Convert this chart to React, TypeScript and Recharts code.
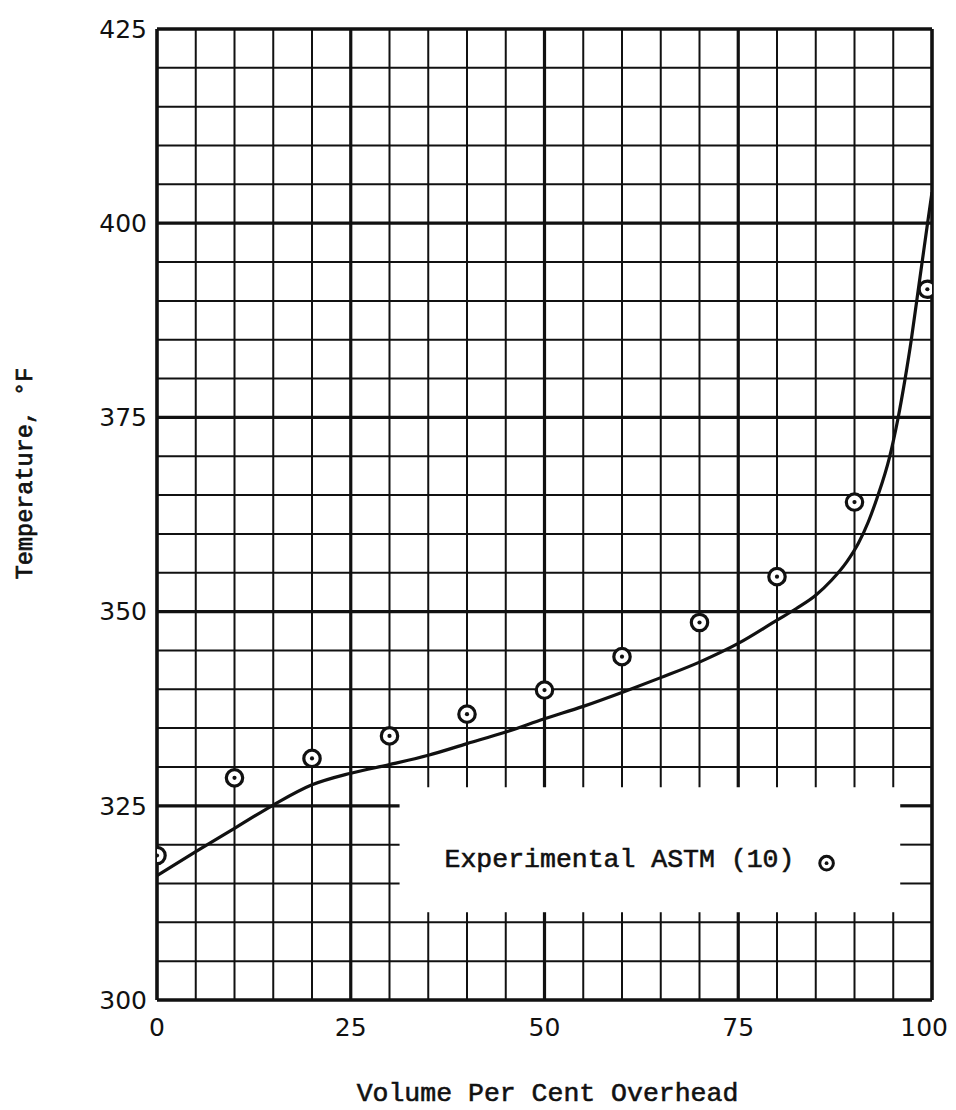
import React from "react";
import {
  ComposedChart,
  Line,
  Scatter,
  XAxis,
  YAxis,
  ReferenceLine,
  ReferenceArea,
  Label,
} from "recharts";

// ---- data ----
const curveX = [0, 5, 10, 15, 20, 25, 30, 35, 40, 45, 50, 55, 60, 65, 70, 75, 80, 82.5, 85, 87, 89, 90.5, 91.8, 92.9, 94.5, 95.6, 96.5, 97.3, 98.0, 98.7, 99.4, 100];
const curveT = [316.0, 319.1, 322.1, 325.1, 327.7, 329.2, 330.3, 331.5, 333.0, 334.5, 336.2, 337.8, 339.6, 341.5, 343.5, 345.9, 348.9, 350.4, 352.1, 354.0, 356.4, 358.8, 361.6, 364.6, 369.8, 374.8, 379.8, 384.8, 389.8, 394.8, 399.8, 404.0];

const pointX = [0, 10, 20, 30, 40, 50, 60, 70, 80, 90, 99.4];
const pointT = [318.6, 328.6, 331.1, 334.0, 336.8, 339.9, 344.2, 348.6, 354.5, 364.1, 391.5];

const xTicks = [0, 25, 50, 75, 100];
const yTicks = [300, 325, 350, 375, 400, 425];
const xGrid = [0, 5, 10, 15, 20, 25, 30, 35, 40, 45, 50, 55, 60, 65, 70, 75, 80, 85, 90, 95, 100];
const yGrid = [300, 305, 310, 315, 320, 325, 330, 335, 340, 345, 350, 355, 360, 365, 370, 375, 380, 385, 390, 395, 400, 405, 410, 415, 420, 425];

const legendLabel = "Experimental ASTM (10)";
const legendBox = { x1: 31.3, x2: 95.9, y1: 311.3, y2: 327.4 };

const curveData = curveX.map((x, i) => ({ x, t: curveT[i] }));
const pointData = pointX.map((x, i) => ({ x, t: pointT[i] }));

const INK = "#111";
const MONO = "'Liberation Mono', 'Courier New', monospace";
const X_MIN = 0, X_MAX = 100, Y_MIN = 300, Y_MAX = 425;

const widthFor = (v: number, lo: number, hi: number) =>
  v === lo || v === hi ? 3.6 : v % 25 === 0 ? 3.2 : 2.0;

function gridLines() {
  const out: React.ReactNode[] = [];
  xGrid.forEach((v) => {
    const w = widthFor(v, X_MIN, X_MAX);
    if (v > legendBox.x1 && v < legendBox.x2) {
      out.push(
        <ReferenceLine key={`vx-a-${v}`} segment={[{ x: v, y: Y_MIN }, { x: v, y: legendBox.y1 }]} stroke={INK} strokeWidth={w} />,
        <ReferenceLine key={`vx-b-${v}`} segment={[{ x: v, y: legendBox.y2 }, { x: v, y: Y_MAX }]} stroke={INK} strokeWidth={w} />
      );
    } else {
      out.push(<ReferenceLine key={`vx-${v}`} x={v} stroke={INK} strokeWidth={w} />);
    }
  });
  yGrid.forEach((v) => {
    const w = widthFor(v, Y_MIN, Y_MAX);
    if (v > legendBox.y1 && v < legendBox.y2) {
      out.push(
        <ReferenceLine key={`hy-a-${v}`} segment={[{ x: X_MIN, y: v }, { x: legendBox.x1, y: v }]} stroke={INK} strokeWidth={w} />,
        <ReferenceLine key={`hy-b-${v}`} segment={[{ x: legendBox.x2, y: v }, { x: X_MAX, y: v }]} stroke={INK} strokeWidth={w} />
      );
    } else {
      out.push(<ReferenceLine key={`hy-${v}`} y={v} stroke={INK} strokeWidth={w} />);
    }
  });
  return out;
}

const PointShape = (props: any) => {
  const { cx, cy } = props;
  if (cx == null || cy == null) return null;
  return (
    <g>
      <circle cx={cx} cy={cy} r={8.2} fill="#fff" stroke={INK} strokeWidth={3.2} />
      <circle cx={cx} cy={cy} r={2.1} fill={INK} />
    </g>
  );
};

const renderLegend = (props: any) => {
  const vb = props.viewBox || {};
  const x = vb.x ?? 0;
  const y = vb.y ?? 0;
  return (
    <g>
      <text x={x + 45} y={y + 80} fontFamily={MONO} fontSize={26.5} fill={INK} stroke={INK} strokeWidth={0.6}>
        {legendLabel}
      </text>
      <circle cx={x + 427} cy={y + 76} r={6.8} fill="#fff" stroke={INK} strokeWidth={3} />
      <circle cx={x + 427} cy={y + 76} r={1.9} fill={INK} />
    </g>
  );
};

const renderYTitle = (props: any) => {
  const vb = props.viewBox || {};
  const cx = (vb.x ?? 0) + 24;
  const cy = (vb.y ?? 0) + (vb.height ?? 0) / 2 - 41;
  return (
    <text
      transform={`translate(${cx}, ${cy}) rotate(-90)`}
      textAnchor="middle"
      fontFamily={MONO}
      fontSize={23.5}
      fill={INK}
      stroke={INK}
      strokeWidth={0.7}
    >
      Temperature, °F
    </text>
  );
};

const renderXTitle = (props: any) => {
  const vb = props.viewBox || {};
  const cx = (vb.x ?? 0) + (vb.width ?? 0) / 2 + 3;
  const by = (vb.y ?? 0) + 101;
  return (
    <text x={cx} y={by} textAnchor="middle" fontFamily={MONO} fontSize={26.5} fill={INK} stroke={INK} strokeWidth={0.6}>
      Volume Per Cent Overhead
    </text>
  );
};

const XTick = (props: any) => {
  const { x, y, payload, index } = props;
  const last = index === xTicks.length - 1;
  return (
    <text
      x={last ? x + 16 : x}
      y={y}
      dy="0.72em"
      textAnchor={last ? "end" : "middle"}
      fontFamily="'DejaVu Sans', sans-serif"
      fontSize={25}
      fill={INK}
    >
      {payload.value}
    </text>
  );
};

const tickStyle = { fontFamily: "'DejaVu Sans', sans-serif", fontSize: 25, fill: INK };

export default function App() {
  return (
    <div style={{ width: 940, height: 1102, background: "#fff" }}>
      <ComposedChart width={940} height={1102} margin={{ top: 21, right: 16, bottom: 0, left: 0 }}>
        <XAxis
          dataKey="x"
          type="number"
          domain={[X_MIN, X_MAX]}
          ticks={xTicks}
          allowDataOverflow
          axisLine={false}
          tickLine={false}
          tickSize={0}
          tickMargin={18}
          height={110}
          tick={<XTick />}
          interval={0}
        >
          <Label content={renderXTitle} />
        </XAxis>
        <YAxis
          dataKey="t"
          type="number"
          domain={[Y_MIN, Y_MAX]}
          ticks={yTicks}
          allowDataOverflow
          axisLine={false}
          tickLine={false}
          tickSize={0}
          tickMargin={10}
          width={149}
          tick={tickStyle}
          interval={0}
        >
          <Label content={renderYTitle} />
        </YAxis>
        {gridLines()}
        <ReferenceArea
          x1={legendBox.x1}
          x2={legendBox.x2}
          y1={legendBox.y1}
          y2={legendBox.y2}
          fill="none"
          stroke="none"
          label={{ content: renderLegend } as any}
        />
        <Line
          data={curveData}
          dataKey="t"
          type="monotone"
          stroke={INK}
          strokeWidth={3.2}
          dot={false}
          activeDot={false}
          isAnimationActive={false}
        />
        <Scatter data={pointData} dataKey="t" shape={<PointShape />} isAnimationActive={false} />
      </ComposedChart>
    </div>
  );
}
